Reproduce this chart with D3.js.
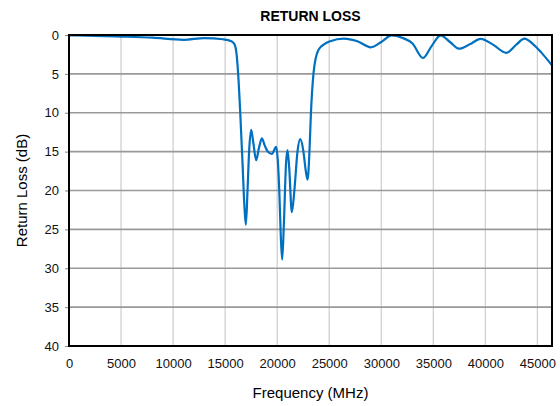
<!DOCTYPE html>
<html>
<head>
<meta charset="utf-8">
<script src="https://cdn.jsdelivr.net/npm/d3@7"></script>
<style>
  body { margin: 0; background: #fff; }
  text { font-family: "Liberation Sans", Arial, sans-serif; }
</style>
</head>
<body>
<div id="viz-container"></div>
<script>
// frequency (MHz) and return loss (dB)
let freq = [0, 2500, 5000, 8000, 11000, 13000, 14800, 15600, 15900, 16100,
  16250, 16450, 16670, 16850, 16990, 17150, 17300, 17500, 17700, 17980,
  18250, 18530, 18800, 19100, 19490, 19900, 20050, 20200, 20350, 20480,
  20650, 20850, 20990, 21150, 21410, 21650, 21950, 22210, 22500, 22750,
  22920, 23100, 23240, 23490, 23700, 23970, 24500, 25100, 26400, 27700,
  29000, 30000, 31000, 32000, 33000, 34000, 34800, 35700, 36600, 37450,
  38500, 39550, 40800, 42000, 43000, 43750, 44600, 45400, 46400];
let returnLoss = [0.05, 0.1, 0.2, 0.35, 0.62, 0.4, 0.55, 0.8, 1.2, 2.5,
  5, 10, 16.5, 22, 24.4, 20, 15, 12.2, 13.8, 16.1,
  14.5, 13.3, 14.2, 15, 15.3, 14.4, 16, 20, 26, 28.9,
  24, 16.5, 14.8, 17, 22.8, 20, 15, 13.4, 14.8, 17.5,
  18.6, 15, 10.1, 4.9, 3.0, 1.9, 1.2, 0.8, 0.47, 0.8,
  1.58, 0.9, 0.05, 0.35, 1.1, 2.96, 1.5, 0.04, 0.9, 1.76,
  1.2, 0.5, 1.3, 2.3, 1.2, 0.47, 1.2, 2.3, 3.9];
let xTicks = [0, 5000, 10000, 15000, 20000, 25000, 30000, 35000, 40000, 45000];
let yTicks = [0, 5, 10, 15, 20, 25, 30, 35, 40];

let W = 560, H = 406;
let mLeft = 69, mRight = 552, mTop = 35, mBottom = 346;

let viz = d3.select("#viz-container")
  .append("svg")
    .attr("width", W)
    .attr("height", H)
;

let x = d3.scaleLinear().domain([0, 46400]).range([mLeft, mRight]);
let y = d3.scaleLinear().domain([0, 40]).range([mTop, mBottom]);

// vertical grid
viz.selectAll(".vgrid").data(xTicks.slice(1)).enter()
  .append("line")
    .attr("x1", d => x(d)).attr("x2", d => x(d))
    .attr("y1", mTop).attr("y2", mBottom)
    .attr("stroke", "#d0d0d0")
    .attr("stroke-width", 1.3)
;
// horizontal grid
viz.selectAll(".hgrid").data(yTicks.slice(1, -1)).enter()
  .append("line")
    .attr("x1", mLeft).attr("x2", mRight)
    .attr("y1", d => y(d)).attr("y2", d => y(d))
    .attr("stroke", "#999")
    .attr("stroke-width", 1.6)
;

// axes
let yAxis = viz.append("g")
  .attr("transform", "translate(" + mLeft + ",0)")
  .call(d3.axisLeft(y).tickValues(yTicks).tickSize(4).tickPadding(6));
let xAxis = viz.append("g")
  .attr("transform", "translate(0," + mBottom + ")")
  .call(d3.axisBottom(x).tickValues(xTicks).tickSize(0).tickPadding(13).tickFormat(d3.format("d")));
[yAxis, xAxis].forEach(function(a){
  a.select(".domain").remove();
  a.selectAll("line").attr("stroke", "#888");
  a.selectAll("text").attr("font-size", 13).attr("fill", "#111")
    .style("font-family", "'Liberation Sans', Arial, sans-serif");
});

// curve
let points = freq.map((f, i) => [f, returnLoss[i]]);
let line = d3.line()
  .x(d => x(d[0]))
  .y(d => y(d[1]))
  .curve(d3.curveMonotoneX);
viz.append("path")
  .datum(points)
  .attr("d", line)
  .attr("fill", "none")
  .attr("stroke", "#0070c0")
  .attr("stroke-width", 2.2)
;

// frame
viz.append("rect")
  .attr("x", mLeft).attr("y", mTop)
  .attr("width", mRight - mLeft).attr("height", mBottom - mTop)
  .attr("fill", "none")
  .attr("stroke", "#000")
  .attr("stroke-width", 2)
;

viz.append("text")
  .text("RETURN LOSS")
    .attr("x", (mLeft + mRight) / 2)
    .attr("y", 21)
    .attr("text-anchor", "middle")
    .attr("font-size", 14)
    .attr("font-weight", "bold")
;
viz.append("text")
  .text("Frequency (MHz)")
    .attr("x", (mLeft + mRight) / 2)
    .attr("y", 398)
    .attr("text-anchor", "middle")
    .attr("font-size", 15)
;
viz.append("text")
  .text("Return Loss (dB)")
    .attr("transform", "translate(27," + ((mTop + mBottom) / 2) + ") rotate(-90)")
    .attr("text-anchor", "middle")
    .attr("font-size", 15)
;
</script>
</body>
</html>
